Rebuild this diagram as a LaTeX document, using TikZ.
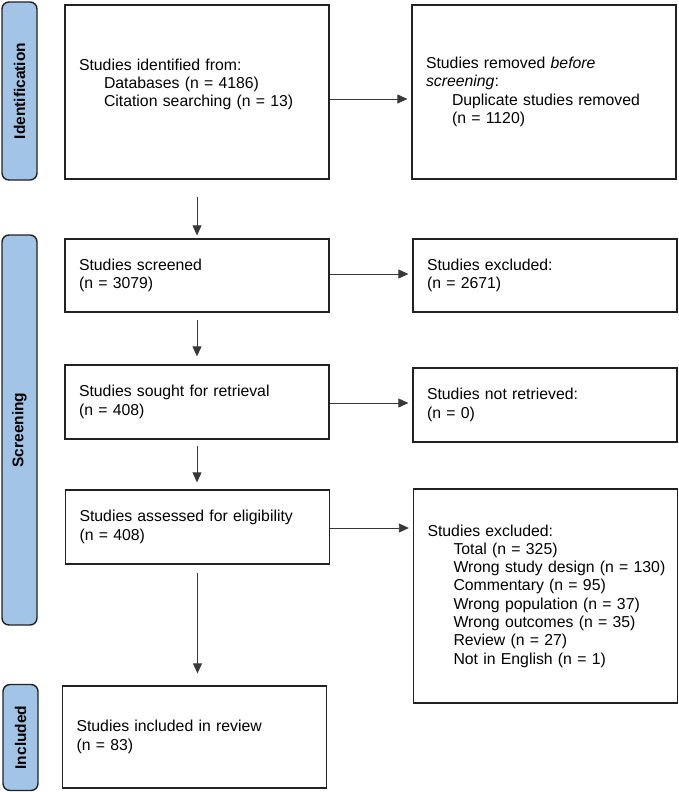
\documentclass[tikz,border=0pt]{standalone}
\usepackage{fontspec}
\setmainfont{Liberation Sans}
\usetikzlibrary{arrows.meta,calc}
\definecolor{sidebl}{HTML}{A2C4E6}
\definecolor{linec}{HTML}{222222}
\begin{document}
\begin{tikzpicture}[x=1pt,y=-1pt,
  every node/.style={font=\fontsize{15.8}{18.3}\selectfont},
  box/.style={draw=linec, line width=1.3pt, minimum width=264pt, text width=236pt,
    inner xsep=14pt, inner ysep=0pt, align=left},
  side/.style={draw=linec, line width=1.4pt, fill=sidebl, rounded corners=7pt, rotate=90,
    inner sep=0pt, font=\fontsize{15.5}{18}\selectfont\bfseries},
  arr/.style={draw=linec!90, line width=0.8pt, -{Triangle[length=10pt,width=9pt]}}
]
\useasboundingbox (0,0) rectangle (679,792);

% side bars
\node[side, minimum width=178pt, minimum height=35pt] (s1) at (19.5,91) {Identification};
\node[side, minimum width=390pt, minimum height=35pt] (s2) at (19.5,430) {Screening};
\node[side, minimum width=106pt, minimum height=35pt] (s3) at (20.5,737.5) {Included};

% boxes
\node[box, minimum height=174pt] (b1) at (197,92)
  {Studies identified from:\\
   \mbox{\hspace{25pt}Databases (n = 4186)}\\
   \mbox{\hspace{25pt}Citation searching (n = 13)}\\
   \mbox{}};
\node[box, minimum height=174pt] (b2) at (544,92)
  {Studies removed \textit{before}\\
   \textit{screening}:\\
   \mbox{\hspace{26pt}Duplicate studies removed}\\
   \mbox{\hspace{26pt}(n = 1120)}};
\node[box, minimum height=73pt] (b3) at (197,275.5)
  {Studies screened\\ (n = 3079)};
\node[box, minimum height=73pt] (b4) at (545,275.5)
  {Studies excluded:\\ (n = 2671)};
\node[box, minimum height=74pt] (b5) at (197,402)
  {Studies sought for retrieval\\ (n = 408)};
\node[box, minimum height=74pt] (b6) at (545,405)
  {Studies not retrieved:\\ (n = 0)};
\node[box, minimum height=74pt] (b7) at (197.5,527)
  {Studies assessed for eligibility\\ (n = 408)};
\node[box, minimum height=214pt] (b8) at (545.5,596)
  {Studies excluded:\\
   \mbox{\hspace{26pt}Total (n = 325)}\\
   \mbox{\hspace{26pt}Wrong study design (n = 130)}\\
   \mbox{\hspace{26pt}Commentary (n = 95)}\\
   \mbox{\hspace{26pt}Wrong population (n = 37)}\\
   \mbox{\hspace{26pt}Wrong outcomes (n = 35)}\\
   \mbox{\hspace{26pt}Review (n = 27)}\\
   \mbox{\hspace{26pt}Not in English (n = 1)}};
\node[box, minimum height=102pt] (b9) at (194.5,737)
  {Studies included in review\\ (n = 83)};

% horizontal arrows
\draw[arr, shorten >=4pt] ($(b1.east)+(0,7)$) coordinate (p1) -- (p1 -| b2.west);
\draw[arr, shorten >=4pt] ($(b3.east)+(0,-1.5)$) coordinate (p3) -- (p3 -| b4.west);
\draw[arr, shorten >=4pt] ($(b5.east)+(0,1)$) coordinate (p5) -- (p5 -| b6.west);
\draw[arr, shorten >=4pt] ($(b7.east)+(0,1)$) coordinate (p7) -- (p7 -| b8.west);

% vertical arrows
\draw[arr, shorten <=17pt, shorten >=3pt] (b1.south) -- (b1.south |- b3.north);
\draw[arr, shorten <=7pt, shorten >=8pt] (b3.south) -- (b3.south |- b5.north);
\draw[arr, shorten <=6pt, shorten >=7pt] (b5.south) -- (b5.south |- b7.north);
\draw[arr, shorten <=8pt, shorten >=12pt] (b7.south) -- (b7.south |- b9.north);
\end{tikzpicture}
\end{document}
